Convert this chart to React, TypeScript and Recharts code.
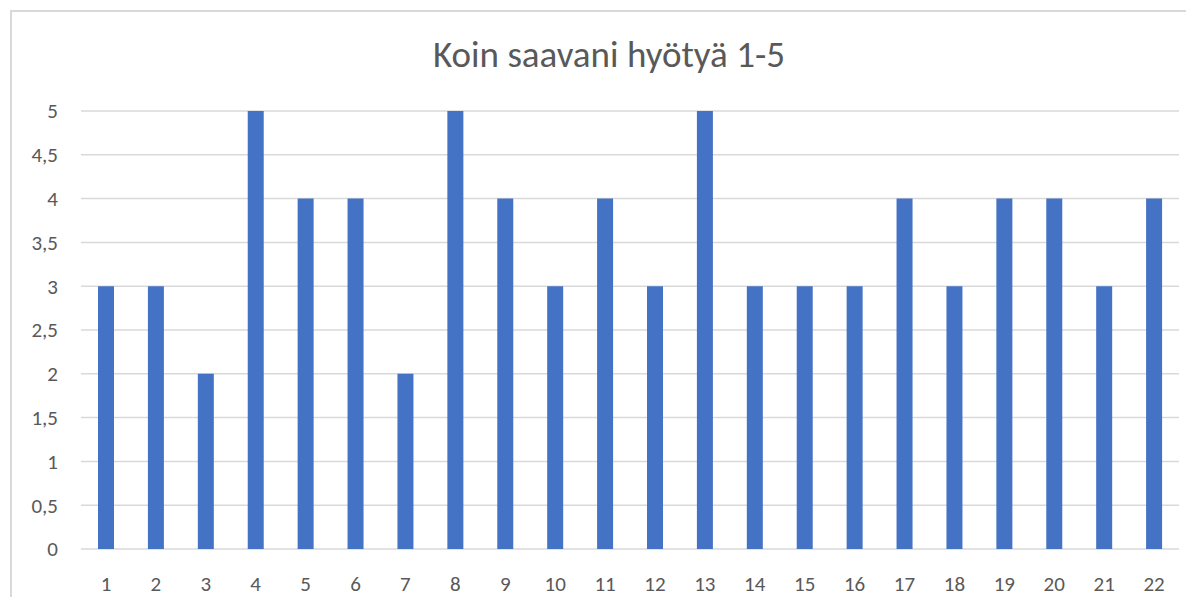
import React from "react";
import { BarChart, Bar, XAxis, YAxis, CartesianGrid } from "recharts";

const categories = ["1","2","3","4","5","6","7","8","9","10","11","12","13","14","15","16","17","18","19","20","21","22"];
const values = [3,3,2,5,4,4,2,5,4,3,4,3,5,3,3,3,4,3,4,4,3,4];
const yTicks = [0,0.5,1,1.5,2,2.5,3,3.5,4,4.5,5];
const title = "Koin saavani hyötyä 1-5";

const data = categories.map((c, i) => ({ name: c, value: values[i] }));

const FONT = "Calibri, Carlito, 'Open Sans', 'Liberation Sans', sans-serif";

export default function App() {
  return (
    <div style={{ position: "relative", width: 1186, height: 589, overflow: "hidden", background: "#fff" }}>
      <div
        style={{
          position: "absolute",
          left: 2,
          top: 2,
          width: 1400,
          height: 800,
          border: "2px solid #d9d9d9",
          boxSizing: "border-box",
        }}
      />
      <div
        style={{
          position: "absolute",
          left: 0,
          top: 25,
          width: 1202,
          textAlign: "center",
          fontFamily: FONT,
          fontSize: 37,
          color: "#595959",
          lineHeight: "44px",
        }}
      >
        {title}
      </div>
      <BarChart
        width={1186}
        height={589}
        data={data}
        margin={{ top: 103, right: 15, bottom: 0, left: 0 }}
        style={{ position: "absolute", left: 0, top: 0 }}
      >
        <CartesianGrid vertical={false} stroke="#d9d9d9" strokeWidth={1.5} />
        <XAxis
          dataKey="name"
          axisLine={false}
          tickLine={false}
          tickMargin={21}
          height={48}
          interval={0}
          tick={{ fill: "#595959", fontSize: 21, fontFamily: FONT }}
        />
        <YAxis
          domain={[0, 5]}
          ticks={yTicks}
          axisLine={false}
          tickLine={false}
          width={73}
          tickMargin={17}
          tickFormatter={(v: number) => String(v).replace(".", ",")}
          tick={{ fill: "#595959", fontSize: 21, fontFamily: FONT }}
        />
        <Bar dataKey="value" fill="#4472C4" barSize={16} isAnimationActive={false} />
      </BarChart>
    </div>
  );
}
